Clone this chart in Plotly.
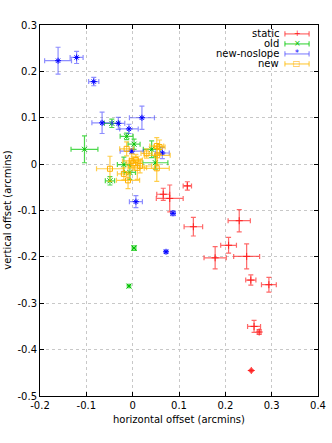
import plotly.graph_objects as go

# ---- data ----
static_x = [0.118, 0.066, 0.080, 0.131, 0.230, 0.207, 0.178, 0.246, 0.255, 0.294, 0.262, 0.273, 0.256]
static_y = [-0.047, -0.065, -0.074, -0.135, -0.122, -0.175, -0.202, -0.199, -0.250, -0.260, -0.350, -0.362, -0.445]
static_ex = [0.009, 0.014, 0.029, 0.020, 0.024, 0.017, 0.024, 0.028, 0.011, 0.016, 0.014, 0.004, 0.002]
static_ey = [0.009, 0.013, 0.029, 0.020, 0.024, 0.017, 0.024, 0.027, 0.011, 0.016, 0.013, 0.005, 0.002]

old_x = [-0.104, -0.045, -0.013, 0.003, 0.041, -0.019, -0.049, 0.049, -0.006, 0.003, -0.008]
old_y = [0.032, 0.088, 0.060, 0.043, 0.032, -0.001, -0.036, 0.003, -0.018, -0.181, -0.263]
old_ex = [0.029, 0.016, 0.014, 0.013, 0.018, 0.014, 0.010, 0.027, 0.012, 0.004, 0.002]
old_ey = [0.029, 0.009, 0.007, 0.011, 0.018, 0.016, 0.009, 0.014, 0.015, 0.005, 0.002]

noslope_x = [-0.161, -0.121, -0.084, -0.066, -0.031, -0.008, 0.020, -0.002, 0.064, 0.007, 0.087, 0.072]
noslope_y = [0.223, 0.230, 0.178, 0.089, 0.088, 0.076, 0.100, 0.028, 0.024, -0.081, -0.106, -0.189]
noslope_ex = [0.029, 0.014, 0.011, 0.022, 0.014, 0.020, 0.027, 0.025, 0.015, 0.014, 0.005, 0.003]
noslope_ey = [0.029, 0.013, 0.009, 0.023, 0.013, 0.010, 0.025, 0.005, 0.012, 0.013, 0.005, 0.003]

new_x = [-0.049, -0.013, -0.019, -0.010, -0.002, 0.001, 0.007, 0.010, 0.030, 0.052, 0.053, 0.052, 0.058, 0.016]
new_y = [-0.010, 0.033, -0.021, -0.035, 0.007, 0.002, 0.009, -0.008, 0.023, 0.039, 0.019, -0.009, 0.037, -0.004]
new_ex = [0.029, 0.015, 0.014, 0.025, 0.020, 0.015, 0.014, 0.020, 0.012, 0.015, 0.028, 0.027, 0.012, 0.025]
new_ey = [0.027, 0.015, 0.013, 0.018, 0.015, 0.015, 0.012, 0.025, 0.010, 0.018, 0.020, 0.028, 0.015, 0.015]

x_ticks = [-0.2, -0.1, 0, 0.1, 0.2, 0.3, 0.4]
x_labels = ["-0.2", "-0.1", "0", "0.1", "0.2", "0.3", "0.4"]
y_ticks = [-0.5, -0.4, -0.3, -0.2, -0.1, 0, 0.1, 0.2, 0.3]
y_labels = ["-0.5", "-0.4", "-0.3", "-0.2", "-0.1", "0", "0.1", "0.2", "0.3"]

series = [
    ("static", static_x, static_y, static_ex, static_ey, "rgba(255,40,40,0.7)", "#ff2020", "cross-thin-open", "+"),
    ("old", old_x, old_y, old_ex, old_ey, "rgba(0,200,0,0.7)", "#00c000", "x-thin-open", "×"),
    ("new-noslope", noslope_x, noslope_y, noslope_ex, noslope_ey, "rgba(50,50,255,0.55)", "#0000ff", "asterisk-open", "*"),
    ("new", new_x, new_y, new_ex, new_ey, "rgba(255,185,0,0.7)", "#ffb000", "square-open", "□"),
]

FONT = "DejaVu Sans"
fig = go.Figure()
for name, xs, ys, exs, eys, ecol, mcol, sym, glyph in series:
    fig.add_trace(go.Scatter(
        x=xs, y=ys, mode="markers", name=name, showlegend=False,
        marker=dict(symbol=sym, size=5, color=mcol, line=dict(color=mcol, width=1)),
        error_x=dict(type="data", array=exs, visible=True, color=ecol, thickness=1.2, width=2.5),
        error_y=dict(type="data", array=eys, visible=True, color=ecol, thickness=1.2, width=2.5),
    ))

# custom gnuplot-style key (text right-aligned, sample to the right)
shapes = []
annotations = []
rows_y = [0.976, 0.949, 0.922, 0.895]
x0, x1 = 0.881, 0.968
for (name, xs, ys, exs, eys, ecol, mcol, sym, glyph), ry in zip(series, rows_y):
    annotations.append(dict(xref="paper", yref="paper", x=0.866, y=ry, text=name,
                            showarrow=False, xanchor="right", yanchor="middle",
                            font=dict(family=FONT, size=10, color="black")))
    shapes.append(dict(type="line", xref="paper", yref="paper", x0=x0, x1=x1, y0=ry, y1=ry,
                       line=dict(color=ecol, width=1.2)))
    for xe in (x0, x1):
        shapes.append(dict(type="line", xref="paper", yref="paper", x0=xe, x1=xe,
                           y0=ry - 0.007, y1=ry + 0.007, line=dict(color=ecol, width=1.2)))
    annotations.append(dict(xref="paper", yref="paper", x=(x0 + x1) / 2, y=ry, text=glyph,
                            showarrow=False, xanchor="center", yanchor="middle",
                            font=dict(family=FONT, size=8, color=mcol)))

# axis titles as annotations
annotations.append(dict(xref="paper", yref="paper", x=0.5, y=-0.064, text="horizontal offset (arcmins)",
                        showarrow=False, xanchor="center", yanchor="middle",
                        font=dict(family=FONT, size=10, color="black")))
annotations.append(dict(xref="paper", yref="paper", x=-0.118, y=0.5, text="vertical offset (arcmins)",
                        showarrow=False, xanchor="center", yanchor="middle", textangle=-90,
                        font=dict(family=FONT, size=10, color="black")))

axis_common = dict(
    showgrid=True, gridcolor="#c8c8c8", griddash="dot", gridwidth=1,
    zeroline=False, showline=True, linecolor="#000000", linewidth=1, mirror="allticks",
    ticks="inside", ticklen=4, tickcolor="#000000", automargin=False,
    tickfont=dict(family=FONT, size=10, color="black"),
)

fig.update_layout(
    width=332, height=443,
    margin=dict(l=40, r=14, t=25, b=47, autoexpand=False),
    paper_bgcolor="white", plot_bgcolor="white",
    xaxis=dict(range=[-0.2, 0.4], tickvals=x_ticks, ticktext=x_labels, **axis_common),
    yaxis=dict(range=[-0.5, 0.3], tickvals=y_ticks, ticktext=y_labels, **axis_common),
    shapes=shapes, annotations=annotations,
    showlegend=False,
)

fig.write_html("out.html", config={"displayModeBar": False},
               post_script="document.body.style.margin='0';document.body.style.overflow='hidden';")
